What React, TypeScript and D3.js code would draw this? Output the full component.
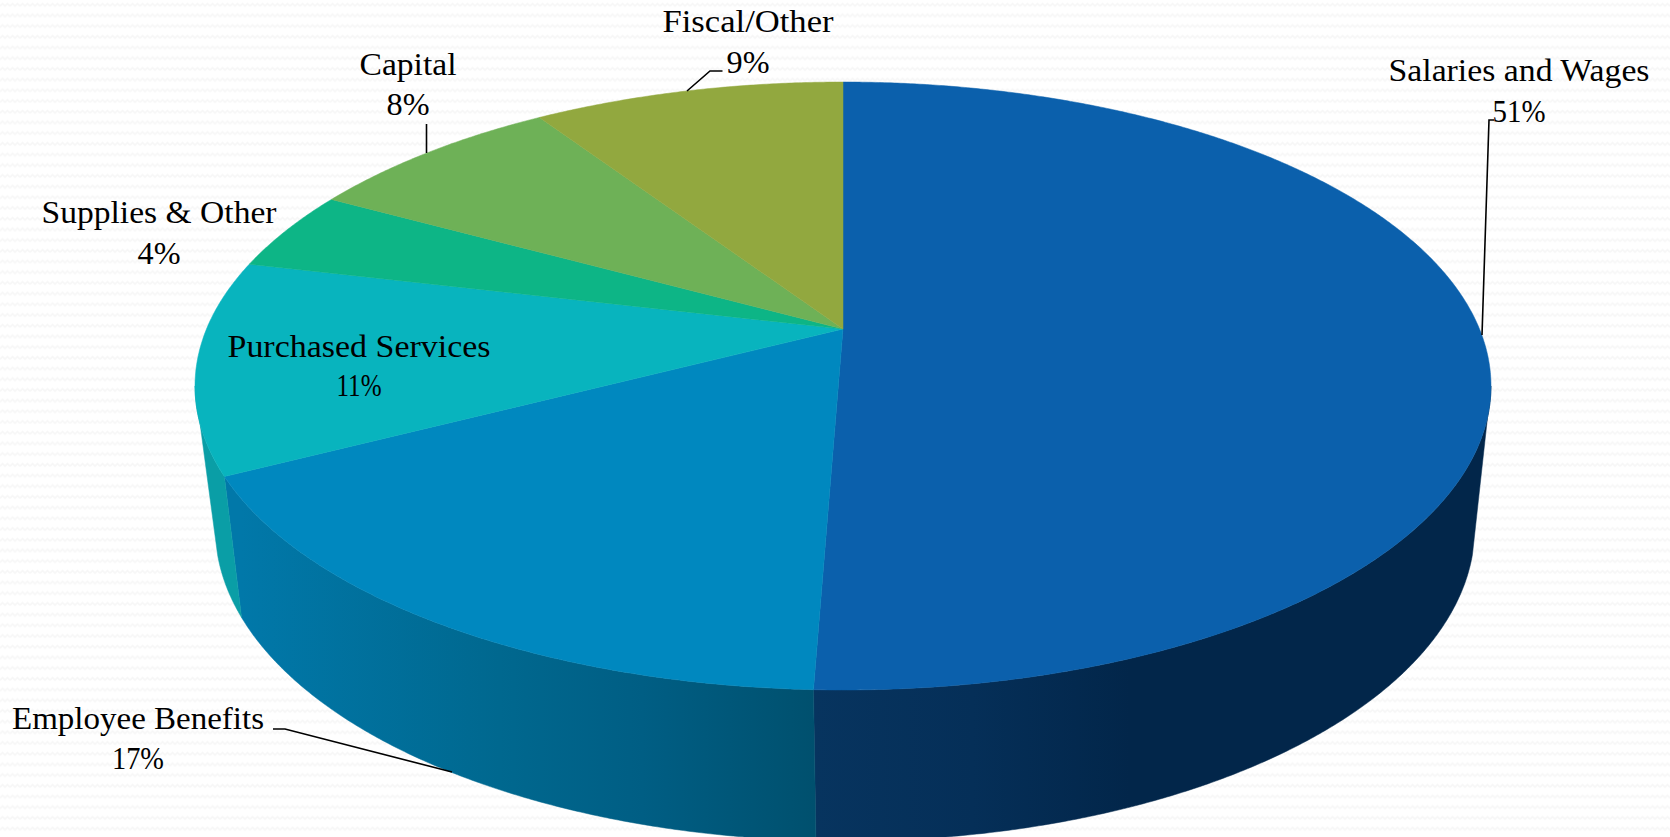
import React, { useMemo } from "react";
import * as d3 from "d3";

// ---- data ----
const categories = ["Salaries and Wages", "Employee Benefits", "Purchased Services", "Supplies & Other", "Capital", "Fiscal/Other"];
const shares = [50.6, 16.8, 11.3, 4.3, 7.7, 9.3];
const topColors = ["#0B60AC", "#0088BF", "#08B4BE", "#0DB586", "#6EB157", "#92A83F"];
const wallStops = [
  ["#07345F", "#052F58", "#02264A", "#02264A"],
  ["#0178A9", "#00688F", "#005E84", "#00506E"],
  ["#0A9EA6", "#0A9EA6", "#0A9EA6", "#0A9EA6"],
  ["#0A9070", "#0A9070", "#0A9070", "#0A9070"],
  ["#5A9047", "#5A9047", "#5A9047", "#5A9047"],
  ["#768833", "#768833", "#768833", "#768833"],
];

// ---- layout (text & leaders) ----
const W = 1670, H = 837;
const FS = 32;
const labelX = [1519, 138, 359, 159, 408, 748];
const labelY = [81, 729, 357, 223, 75, 32];
const pctY = [122, 769, 396, 264, 115, 73];
const nameW = [261, 252, 263, 235, 97, 171];
const pctW = [53, 52, 45, 43, 43, 43];
const leaders: [number, number][][] = [
  [[1482, 335], [1489, 120], [1494, 120]],
  [[273, 729], [285, 729], [452, 772]],
  [],
  [],
  [[426.5, 124], [426.5, 153]],
  [[687, 91], [710, 71], [722.5, 71]],
];

// perspective projection of a unit disc onto the screen
type Proj = { cx: number; ay: number; A: number; B: number; k: number };
const topP: Proj = { cx: 843, ay: 329, A: 636.5, B: 293.3, k: 0.1875 };
const botP: Proj = { cx: 845, ay: 465.4, A: 617, B: 300.5, k: 0.2 };
const project = (p: Proj, t: number): [number, number] => {
  const X = Math.sin(t), Y = -Math.cos(t), s = 1 - p.k * Y;
  return [p.cx + (p.A * X) / s, p.ay + (p.B * Y) / s];
};
const samples = (a: number, b: number) => {
  const n = Math.max(2, Math.ceil(Math.abs(b - a) / 0.006));
  return d3.range(n + 1).map((i) => a + ((b - a) * i) / n);
};
const closed = d3.line().curve(d3.curveLinearClosed);
const toRad = (deg: number) => (deg * Math.PI) / 180;
// visible wall: the top rim and the bottom rim end at different angles
const WALL_R = toRad(100.8), WALL_L = toRad(259.2);
const BOT_R = toRad(106.3), BOT_L = toRad(253.7);

export default function App() {
  const arcs = useMemo(
    () => d3.pie<number>().sort(null).startAngle(0).endAngle(2 * Math.PI)(shares),
    []
  );
  const gradX = d3.scaleLinear().domain([0, 1]).range([0, 100]);
  return (
    <svg width={W} height={H} viewBox={`0 0 ${W} ${H}`} style={{ position: "absolute", left: 0, top: 0, display: "block" }}>
      <defs>
        <pattern id="bg" width="10" height="10.7" patternUnits="userSpaceOnUse">
          <rect width="10" height="10.7" fill="#ffffff" />
          <path d="M0 6 L2.5 3.5 L5 6 L7.5 3.5 L10 6" fill="none" stroke="#f7f7f7" strokeWidth="1.6" />
        </pattern>
        {arcs.map((a, i) => {
          const lo = Math.max(a.startAngle, WALL_R), hi = Math.min(a.endAngle, WALL_L);
          if (lo >= hi) return null;
          const xs = i === 0 ? [815, 1130] : [241, 815];
          const offs = i === 0 ? [0, 0.5, 1, 1] : [0, 0.45, 0.7, 1];
          return (
            <linearGradient key={i} id={`w${i}`} gradientUnits="userSpaceOnUse" x1={xs[0]} x2={xs[1]} y1={0} y2={0}>
              {wallStops[i].map((c, j) => (
                <stop key={j} offset={`${gradX(offs[j])}%`} stopColor={c} />
              ))}
            </linearGradient>
          );
        })}
      </defs>
      <rect width={W} height={H} fill="url(#bg)" />
      {arcs.map((a, i) => {
        const lo = Math.max(a.startAngle, WALL_R), hi = Math.min(a.endAngle, WALL_L);
        if (lo >= hi) return null;
        const bLo = Math.max(a.startAngle, BOT_R), bHi = Math.min(a.endAngle, BOT_L);
        const pts = [
          ...samples(lo, hi).map((t) => project(topP, t)),
          ...samples(bLo, bHi).reverse().map((t) => project(botP, t)),
        ];
        return <path key={i} d={closed(pts) as string} fill={`url(#w${i})`} stroke={`url(#w${i})`} strokeWidth={0.5} />;
      })}
      {arcs.map((a, i) => {
        const pts: [number, number][] = [[topP.cx, topP.ay], ...samples(a.startAngle, a.endAngle).map((t) => project(topP, t))];
        return <path key={i} d={closed(pts) as string} fill={topColors[i]} stroke={topColors[i]} strokeWidth={0.5} />;
      })}
      {leaders.map((l, i) =>
        l.length ? <path key={i} d={d3.line()(l) as string} fill="none" stroke="#000" strokeWidth={1.6} /> : null
      )}
      <g fontFamily="'Liberation Serif', serif" fontSize={FS} fill="#000" textAnchor="middle">
        {categories.map((c, i) => (
          <g key={c}>
            <text x={labelX[i]} y={labelY[i]} textLength={nameW[i]} lengthAdjust="spacingAndGlyphs">{c}</text>
            <text x={labelX[i]} y={pctY[i]} textLength={pctW[i]} lengthAdjust="spacingAndGlyphs">{`${Math.round(shares[i])}%`}</text>
          </g>
        ))}
      </g>
    </svg>
  );
}
